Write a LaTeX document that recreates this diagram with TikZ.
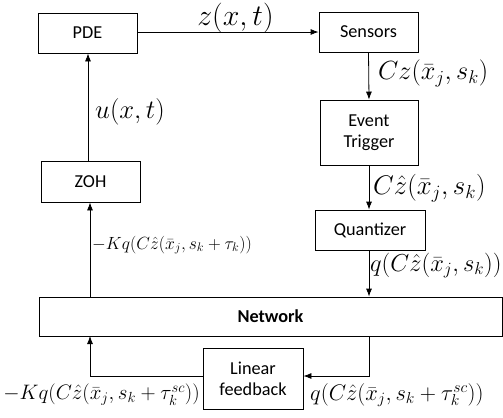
\RequirePackage{fix-cm}
\documentclass[tikz,border=0pt]{standalone}
\usepackage{fontspec}
\setmainfont{Carlito}
\usetikzlibrary{arrows.meta}
\begin{document}
\begin{tikzpicture}[x=1bp,y=-1bp,
  blk/.style={draw,line width=0.8bp,inner sep=0pt,font=\fontsize{18.3}{21.5}\selectfont,align=center},
  arr/.style={line width=0.8bp,-{Latex[length=8bp,width=6bp]}},
  lab/.style={inner sep=0pt,font=\fontsize{#1}{30}\selectfont},
  slab/.style={inner sep=0pt,font=\fontsize{17.7}{20}\selectfont}]
\useasboundingbox (0,0) rectangle (503,417);
% blocks
\node[blk,minimum width=99bp,minimum height=40bp] (pde) at (87.5,33) {PDE};
\node[blk,minimum width=99bp,minimum height=40bp] (sen) at (368.5,32) {Sensors};
\node[blk,minimum width=98bp,minimum height=65bp] (evt) at (369,132.5) {Event\\Trigger};
\node[blk,minimum width=99bp,minimum height=41bp] (zoh) at (90.5,181.5) {ZOH};
\node[blk,minimum width=110bp,minimum height=40bp] (qnt) at (370,230) {Quantizer};
\node[blk,minimum width=463bp,minimum height=39bp] (net) at (270.5,316.5) {\bfseries Network};
\node[blk,minimum width=100bp,minimum height=61bp] (lin) at (253,378.5) {Linear\\feedback};
% connector corners
\coordinate (nb) at (369,336);
\coordinate (nbl) at (90,336);
\coordinate (nt) at (90,297);
\coordinate (qb) at (369,250);
% connectors
\draw[arr] (pde.east|-sen) -- (sen.west);
\draw[arr] (sen.south) -- (evt.south|-evt.north);
\draw[arr] (evt.south) -- (qb|-qnt.north);
\draw[arr] (qb) -- (qb|-net.north);
\draw[arr] (nb) |- (lin.east|-0,376);
\draw[arr] (lin.west|-0,376) -| (nbl);
\draw[arr] (nt) -- (nt|-zoh.south);
\draw[arr] (zoh.north-|88,0) -- (pde.south-|88,0);
% labels
\node[lab=30] (lz) at (235.5,18) {$z(x,t)$};
\node[lab=26.7,anchor=west] (lu) at (95,111.5) {$u(x,t)$};
\node[lab=26.4,anchor=west] (lc) at (378,73.5) {$Cz(\bar{x}_j,s_k)$};
\node[lab=27,anchor=west] (lch) at (373,188) {$C\hat{z}(\bar{x}_j,s_k)$};
\node[slab,anchor=west] (lk) at (92,245) {$-Kq(C\hat{z}(\bar{x}_j,s_k+\tau_k))$};
\node[lab=24.6,anchor=west] (lq) at (370,265.5) {$q(C\hat{z}(\bar{x}_j,s_k))$};
\node[lab=21,anchor=east] (lkl) at (200,395) {$-Kq(C\hat{z}(\bar{x}_j,s_k+\tau_k^{sc}))$};
\node[lab=22.6,anchor=west] (lql) at (310,395) {$q(C\hat{z}(\bar{x}_j,s_k+\tau_k^{sc}))$};
\end{tikzpicture}
\end{document}
